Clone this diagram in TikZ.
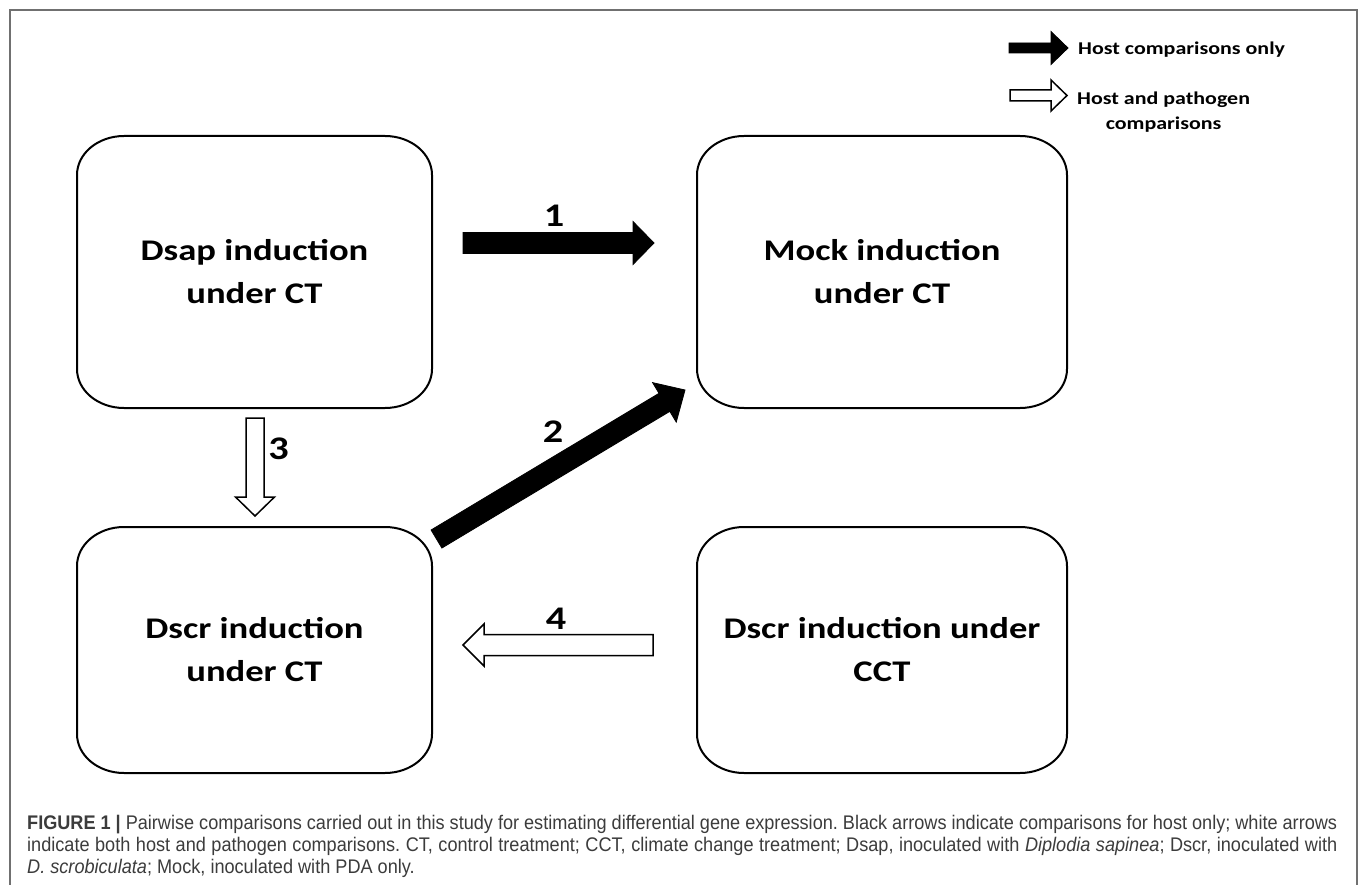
\documentclass[tikz,border=0pt]{standalone}
\usepackage{fontspec}
\usetikzlibrary{calc}
\newfontfamily\boxfont[FakeStretch=1.22]{Carlito}
\newfontfamily\capfont[FakeStretch=0.92]{Liberation Sans}
\definecolor{framegray}{HTML}{707070}
\definecolor{capgray}{HTML}{3C3C3C}
\newcommand{\boxrx}{47}
\newcommand{\boxry}{39}
\tikzset{
  boxnode/.style={draw=none, inner sep=0pt, outer sep=0pt, align=center,
    font=\boxfont\bfseries\fontsize{30}{43}\selectfont},
  boxline/.style={line width=2pt, draw=black},
  numlabel/.style={inner sep=0pt, font=\boxfont\bfseries\fontsize{33}{33}\selectfont},
  legtext/.style={inner sep=0pt, font=\boxfont\bfseries\fontsize{18}{25}\selectfont},
  blackarrow/.style={fill=black, draw=black, line width=0.8pt, line join=miter},
  whitearrow/.style={fill=white, draw=black, line width=1.5pt, line join=miter},
  framestyle/.style={draw=framegray, line width=1.5pt},
  captext/.style={inner sep=0pt, anchor=base west, text=capgray,
    font=\capfont\fontsize{19.7}{22}\selectfont\frenchspacing}
}
\newcommand{\roundbox}[1]{%
  \draw[boxline] ($(#1.north west)+(\boxrx,0)$) -- ($(#1.north east)+(-\boxrx,0)$)
    arc[start angle=90, end angle=0, x radius=\boxrx pt, y radius=\boxry pt]
    -- ($(#1.south east)+(0,\boxry)$)
    arc[start angle=0, end angle=-90, x radius=\boxrx pt, y radius=\boxry pt]
    -- ($(#1.south west)+(\boxrx,0)$)
    arc[start angle=-90, end angle=-180, x radius=\boxrx pt, y radius=\boxry pt]
    -- ($(#1.north west)+(0,-\boxry)$)
    arc[start angle=180, end angle=90, x radius=\boxrx pt, y radius=\boxry pt]
    -- cycle;}
% #1 style, #2 tail, #3 tip, #4 half shaft, #5 half head, #6 head length
\newcommand{\fatarrow}[6]{%
  \coordinate (fa-c) at ($(#3)!#6!(#2)$);
  \draw[#1] ($(#2)!#4!90:(#3)$) -- ($(fa-c)!#4!90:(#3)$) -- ($(fa-c)!#5!90:(#3)$)
    -- (#3) -- ($(fa-c)!#5!-90:(#3)$) -- ($(fa-c)!#4!-90:(#3)$)
    -- ($(#2)!#4!-90:(#3)$) -- cycle;}
\begin{document}
\begin{tikzpicture}[x=1pt, y=1pt]
\useasboundingbox (0,0) rectangle (1360,-885);
\fill[white] (0,0) rectangle (1360,-885);
% outer frame
\draw[framestyle] (10,-886) -- (10,-10) -- (1357,-10) -- (1357,-886);

% boxes
\node[boxnode, minimum width=355pt, minimum height=272pt] (dsap) at (254.5,-272) {Dsap induction\\under CT};
\node[boxnode, minimum width=370pt, minimum height=272pt] (mock) at (882,-272) {Mock induction\\under CT};
\node[boxnode, minimum width=355pt, minimum height=246pt] (dscr) at (254.5,-650) {Dscr induction\\under CT};
\node[boxnode, minimum width=370pt, minimum height=246pt] (dscrcct) at (882,-650) {Dscr induction under\\CCT};
\roundbox{dsap}
\roundbox{mock}
\roundbox{dscr}
\roundbox{dscrcct}

% arrow end points
\coordinate (a1t) at (463,-243);
\coordinate (a1h) at (654,-243);
\coordinate (a2t) at (436.5,-539);
\coordinate (a2h) at (685,-390);
\coordinate (a3t) at (255,-418);
\coordinate (a3h) at (255,-516);
\coordinate (a4t) at (653,-645);
\coordinate (a4h) at (463,-645);

\fatarrow{blackarrow}{a1t}{a1h}{10.5pt}{21.5pt}{21pt}
\fatarrow{blackarrow}{a2t}{a2h}{10.5pt}{23pt}{24pt}
\fatarrow{whitearrow}{a3t}{a3h}{9pt}{19.5pt}{19pt}
\fatarrow{whitearrow}{a4t}{a4h}{10.5pt}{21pt}{21pt}

% arrow labels
\node[numlabel] (n1) at (554,-215.5) {1};
\node[numlabel] (n2) at (553,-432) {2};
\node[numlabel] (n3) at (278.5,-448.5) {3};
\node[numlabel] (n4) at (556,-618.5) {4};

% legend
\coordinate (l1t) at (1009,-48);
\coordinate (l1h) at (1068,-48);
\coordinate (l2t) at (1010,-95.5);
\coordinate (l2h) at (1067,-95.5);
\fatarrow{blackarrow}{l1t}{l1h}{5pt}{16.5pt}{17pt}
\fatarrow{whitearrow}{l2t}{l2h}{5.5pt}{15.5pt}{16pt}
\node[legtext, anchor=base west] (leg1) at (1078,-55) {Host comparisons only};
\node[legtext, anchor=base west] (leg2a) at (1077,-105) {Host and pathogen};
\node[legtext, anchor=base] (leg2b) at ($(leg2a.base)+(0,-25)$) {comparisons};

% caption
\node[captext] (cap1) at (27,-829) {\makebox[1310pt][s]{\textbf{FIGURE 1 |} Pairwise comparisons carried out in this study for estimating differential gene expression. Black arrows indicate comparisons for host only; white arrows}};
\node[captext] (cap2) at (27,-851) {\makebox[1310pt][s]{indicate both host and pathogen comparisons. CT, control treatment; CCT, climate change treatment; Dsap, inoculated with \textit{Diplodia sapinea}; Dscr, inoculated with}};
\node[captext] (cap3) at (27,-873) {\textit{D. scrobiculata}; Mock, inoculated with PDA only.};
\end{tikzpicture}
\end{document}
